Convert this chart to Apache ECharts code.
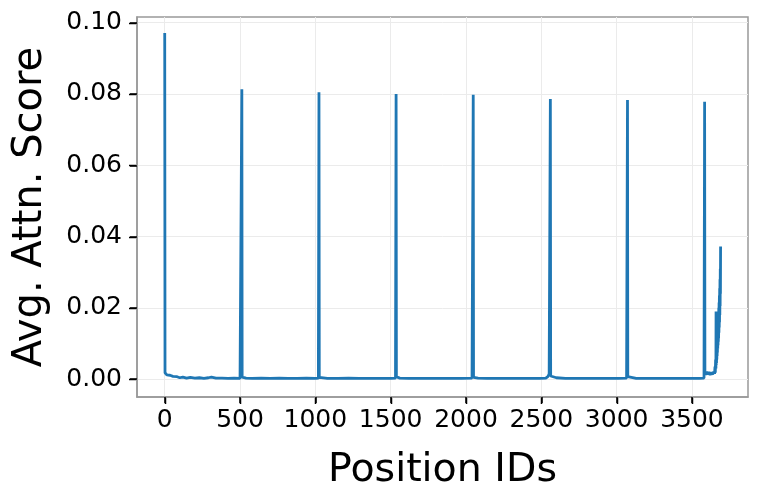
<!DOCTYPE html>
<html>
<head>
<meta charset="utf-8">
<script src="https://cdn.jsdelivr.net/npm/echarts@6/dist/echarts.min.js"></script>
<style>
  html, body { margin: 0; padding: 0; background: #fff; }
  #main { width: 762px; height: 504px; }
</style>
</head>
<body>
<div id="main"></div>
<script>
// x tick labels / y tick labels
var xTicks = [0, 500, 1000, 1500, 2000, 2500, 3000, 3500];
var yTicks = [0, 0.02, 0.04, 0.06, 0.08, 0.10];

// [position id, avg attention score]
var attnPoints = [
    [0, 0.0971], [2, 0.0018], [5, 0.0014], [9, 0.0016], [14, 0.0012], [20, 0.0015],
    [27, 0.0009], [35, 0.0011], [44, 0.0007], [55, 0.0008], [68, 0.0005], [82, 0.0007],
    [100, 0.0004], [120, 0.0006], [145, 0.0003], [170, 0.0005], [200, 0.0003], [230, 0.0004],
    [260, 0.0002], [290, 0.0004], [310, 0.0006], [340, 0.0003], [380, 0.0003], [420, 0.0002],
    [460, 0.0003], [500, 0.0002], [510, 0.0003],
    [512, 0.0813], [514, 0.0006], [520, 0.0004], [540, 0.0003], [580, 0.0002], [640, 0.0003],
    [700, 0.0002], [760, 0.0003], [820, 0.0002], [880, 0.0002], [940, 0.0003], [1000, 0.0002], [1020, 0.0003],
    [1024, 0.0805], [1026, 0.0005], [1035, 0.0003], [1080, 0.0002], [1150, 0.0002], [1220, 0.0003],
    [1290, 0.0002], [1360, 0.0002], [1430, 0.0002], [1500, 0.0002], [1532, 0.0003],
    [1536, 0.0800], [1538, 0.0007], [1545, 0.0004], [1560, 0.0003], [1620, 0.0002], [1690, 0.0002],
    [1760, 0.0002], [1830, 0.0002], [1900, 0.0002], [1970, 0.0002], [2040, 0.0003],
    [2048, 0.0798], [2050, 0.0005], [2060, 0.0004], [2080, 0.0003], [2140, 0.0002], [2210, 0.0002],
    [2280, 0.0002], [2350, 0.0002], [2420, 0.0002], [2490, 0.0002], [2530, 0.0003], [2545, 0.0008],
    [2552, 0.0015], [2556, 0.0010],
    [2560, 0.0786], [2562, 0.0009], [2570, 0.0006], [2600, 0.0004], [2660, 0.0002], [2730, 0.0002],
    [2800, 0.0002], [2870, 0.0002], [2940, 0.0002], [3010, 0.0002], [3066, 0.0003],
    [3072, 0.0783], [3074, 0.0007], [3085, 0.0004], [3130, 0.0002], [3200, 0.0002], [3270, 0.0002],
    [3340, 0.0002], [3410, 0.0002], [3480, 0.0002], [3550, 0.0002], [3580, 0.0003],
    [3584, 0.0778], [3586, 0.0020], [3592, 0.0012], [3598, 0.0021], [3605, 0.0013], [3612, 0.0020],
    [3620, 0.0012], [3628, 0.0019], [3636, 0.0013], [3644, 0.0021], [3650, 0.0015],
    [3653, 0.0035], [3655, 0.0018], [3657, 0.0055], [3659, 0.0030], [3660, 0.0190], [3661, 0.0040],
    [3662, 0.0070], [3663, 0.0045], [3664, 0.0090], [3665, 0.0055], [3666, 0.0110], [3667, 0.0065],
    [3668, 0.0125], [3669, 0.0075], [3670, 0.0140], [3671, 0.0085], [3672, 0.0155], [3673, 0.0095],
    [3674, 0.0170], [3675, 0.0105], [3676, 0.0185], [3677, 0.0115], [3678, 0.0200], [3679, 0.0130],
    [3680, 0.0215], [3681, 0.0145], [3682, 0.0235], [3683, 0.0160], [3684, 0.0255], [3685, 0.0180],
    [3686, 0.0280], [3687, 0.0205], [3688, 0.0310], [3689, 0.0240], [3690, 0.0372]
];

var chart = echarts.init(document.getElementById('main'));
var font = 'DejaVu Sans';
var xMin = -184, xMax = 3872, yMin = -0.005, yMax = 0.1016;

var option = {
    animation: false,
    grid: {
        left: 137, right: 14, top: 17, bottom: 107,
        outerBoundsMode: 'none',
        show: true,
        borderColor: '#999999',
        borderWidth: 1.5
    },
    xAxis: {
        type: 'value',
        min: xMin,
        max: xMax,
        name: 'Position IDs',
        nameLocation: 'middle',
        nameGap: 54,
        nameTextStyle: { fontFamily: font, fontSize: 39.5, color: '#000' },
        axisLine: { show: true, onZero: false, lineStyle: { color: '#999999', width: 1.5 } },
        axisTick: { show: true, length: 6, lineStyle: { color: '#000000', width: 1.5 }, customValues: xTicks },
        axisLabel: {
            customValues: xTicks, fontFamily: font, fontSize: 25, color: '#000', margin: 11,
            formatter: function (v) { return String(v); }
        },
        splitLine: { show: true, lineStyle: { color: '#ebebeb', width: 1 } }
    },
    yAxis: {
        type: 'value',
        min: yMin,
        max: yMax,
        name: 'Avg. Attn. Score',
        nameLocation: 'middle',
        nameGap: 86,
        nameTextStyle: { fontFamily: font, fontSize: 40, color: '#000' },
        axisLine: { show: true, onZero: false, lineStyle: { color: '#999999', width: 1.5 } },
        axisTick: { show: true, length: 7, lineStyle: { color: '#000000', width: 1.5 }, customValues: yTicks },
        axisLabel: {
            customValues: yTicks, fontFamily: font, fontSize: 25, color: '#000', margin: 15,
            formatter: function (v) { return v.toFixed(2); }
        },
        splitLine: { show: true, lineStyle: { color: '#ebebeb', width: 1 } }
    },
    series: [
        {
            type: 'line',
            data: attnPoints,
            showSymbol: false,
            symbol: 'none',
            lineStyle: { color: '#1f77b4', width: 2.8 },
            z: 3
        }
    ]
};

chart.setOption(option);

// tick marks outside the frame, placed through the chart's own scales
var tickLines = [];
xTicks.forEach(function (v) {
    var p = chart.convertToPixel({ gridIndex: 0 }, [v, yMin]);
    tickLines.push({
        type: 'line', z: 100, zlevel: 1, silent: true,
        shape: { x1: Math.round(p[0]) + 0.5, y1: p[1] + 1, x2: Math.round(p[0]) + 0.5, y2: p[1] + 7 },
        style: { stroke: '#000', lineWidth: 1.5 }
    });
});
yTicks.forEach(function (v) {
    var p = chart.convertToPixel({ gridIndex: 0 }, [xMin, v]);
    tickLines.push({
        type: 'line', z: 100, zlevel: 1, silent: true,
        shape: { x1: p[0] - 1, y1: Math.round(p[1]) + 0.5, x2: p[0] - 8, y2: Math.round(p[1]) + 0.5 },
        style: { stroke: '#000', lineWidth: 1.5 }
    });
});
chart.setOption({ graphic: tickLines });
</script>
</body>
</html>
